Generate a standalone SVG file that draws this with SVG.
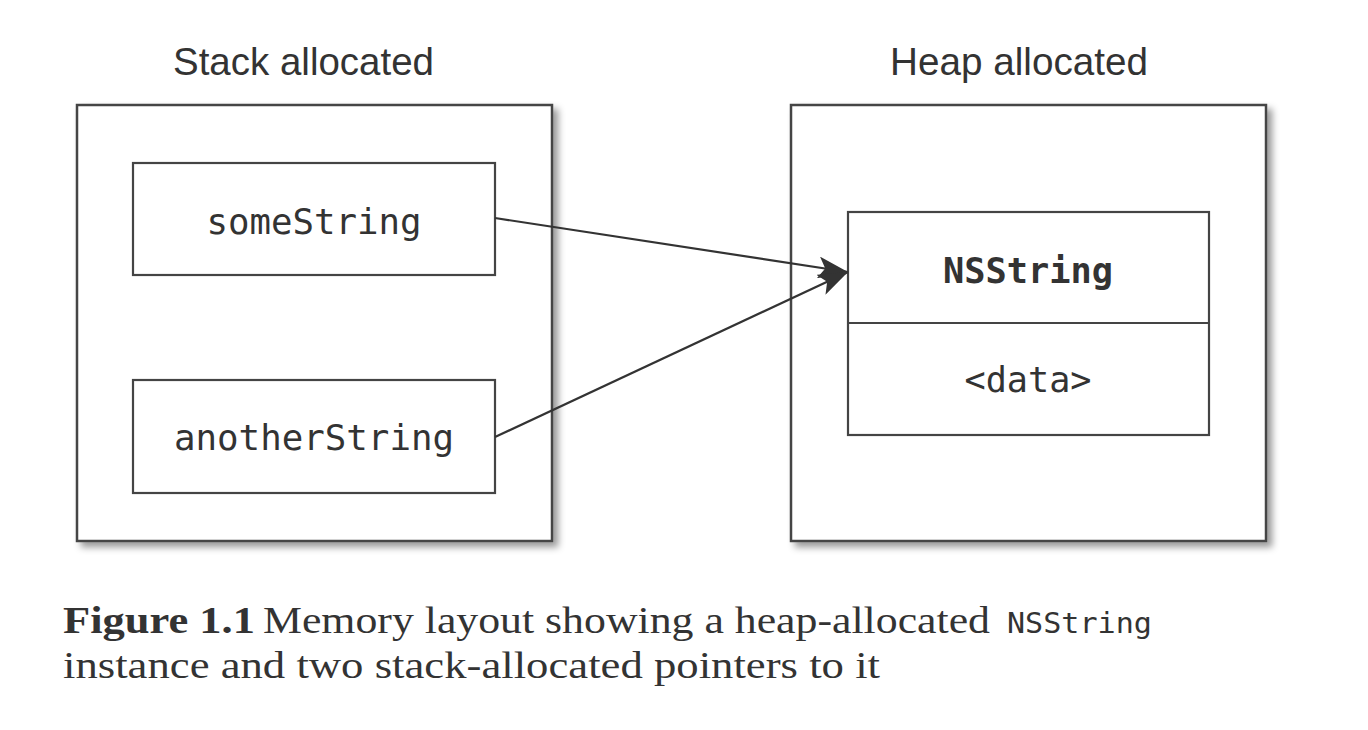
<svg xmlns="http://www.w3.org/2000/svg" width="1368" height="730" viewBox="0 0 1368 730">
<style>
.outer{fill:#fff;stroke:#444;stroke-width:2.5}
.box{fill:#fff;stroke:#444;stroke-width:2.2}
.title{font-family:"Liberation Sans",Arial,sans-serif;font-size:39px;fill:#333}
.mono{font-family:"DejaVu Sans Mono","Liberation Mono",monospace;font-size:35px;fill:#333;text-anchor:middle}
.cap{font-family:"Liberation Serif","DejaVu Serif",serif;font-size:37px;fill:#333}
.capmono{font-family:"DejaVu Sans Mono","Liberation Mono",monospace;font-size:29px;fill:#333}
.conn{stroke:#333;stroke-width:2.2;fill:none}
</style>
<defs>
<filter id="sh" x="-5%" y="-5%" width="115%" height="115%">
<feDropShadow dx="5" dy="5" stdDeviation="3.5" flood-color="#000" flood-opacity="0.4"/>
</filter>
<marker id="arr" viewBox="0 0 30 22" refX="30" refY="11" markerWidth="30" markerHeight="22" markerUnits="userSpaceOnUse" orient="auto">
<path d="M0,0 L30,11 L0,22 L7,11 Z" fill="#333"/>
</marker>
</defs>
<rect width="1368" height="730" fill="#fff"/>
<g id="stack">
<text class="title" x="173" y="75" textLength="261" lengthAdjust="spacingAndGlyphs">Stack allocated</text>
<rect class="outer" x="77" y="105" width="475" height="436" filter="url(#sh)"/>
</g>
<g id="heap">
<text class="title" x="890" y="75" textLength="258" lengthAdjust="spacingAndGlyphs">Heap allocated</text>
<rect class="outer" x="791" y="105" width="475" height="436" filter="url(#sh)"/>
</g>
<g id="someString">
<rect class="box" x="133" y="163" width="362" height="112"/>
<text class="mono" x="314" y="234" textLength="215" lengthAdjust="spacingAndGlyphs">someString</text>
</g>
<g id="anotherString">
<rect class="box" x="133" y="380" width="362" height="113"/>
<text class="mono" x="314" y="450" textLength="280" lengthAdjust="spacingAndGlyphs">anotherString</text>
</g>
<g id="nsstring">
<rect class="box" x="848" y="212" width="361" height="223"/>
<line class="box" x1="848" y1="323" x2="1209" y2="323"/>
<text class="mono" x="1028" y="283" font-weight="bold" textLength="170" lengthAdjust="spacingAndGlyphs">NSString</text>
<text class="mono" x="1028" y="392" textLength="127" lengthAdjust="spacingAndGlyphs">&lt;data&gt;</text>
</g>
<g id="connectors">
<line class="conn" x1="495" y1="218" x2="848" y2="272" marker-end="url(#arr)"/>
<line class="conn" x1="495" y1="437" x2="848" y2="272" marker-end="url(#arr)"/>
</g>
<g id="caption">
<text class="cap" x="63" y="633" font-weight="bold" textLength="192" lengthAdjust="spacingAndGlyphs">Figure 1.1</text>
<text class="cap" x="263" y="633" textLength="727" lengthAdjust="spacingAndGlyphs">Memory layout showing a heap-allocated</text>
<text class="capmono" x="1007" y="633" textLength="145" lengthAdjust="spacingAndGlyphs">NSString</text>
<text class="cap" x="63" y="678" textLength="817" lengthAdjust="spacingAndGlyphs">instance and two stack-allocated pointers to it</text>
</g>
</svg>
